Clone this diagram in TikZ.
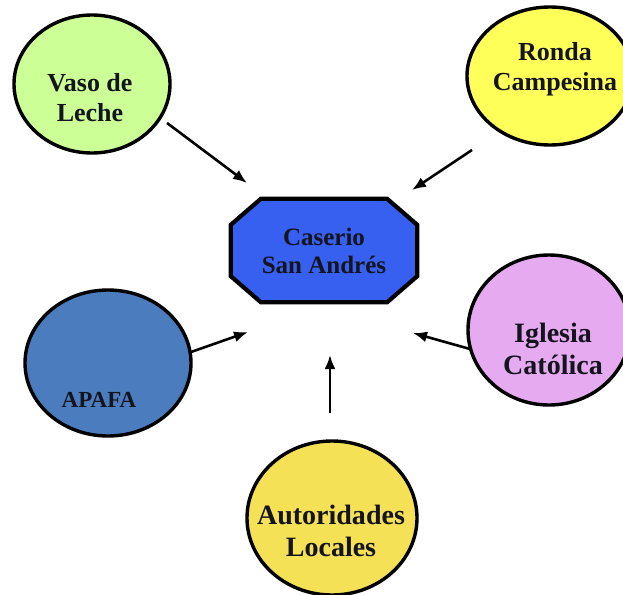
\documentclass[tikz,border=0pt]{standalone}
\usepackage{fontspec}
\setmainfont{Liberation Serif}
\usetikzlibrary{shapes.geometric,arrows.meta,calc,backgrounds}
\definecolor{cVaso}{RGB}{204,255,150}
\definecolor{cRonda}{RGB}{255,255,90}
\definecolor{cCas}{RGB}{55,95,240}
\definecolor{cApafa}{RGB}{75,125,190}
\definecolor{cIgl}{RGB}{230,170,240}
\definecolor{cAut}{RGB}{245,225,85}
\definecolor{cTxt}{RGB}{20,20,30}
\begin{document}
\begin{tikzpicture}[x=1pt,y=-1pt,
  ell/.style={ellipse, draw=black, line width=3.4pt, inner sep=0pt},
  lab/.style={font=\bfseries\fontsize{26}{30}\selectfont, text=cTxt, align=center},
  casbox/.style={rectangle, inner sep=0pt, minimum width=186pt, minimum height=103pt,
     font=\bfseries\fontsize{25}{28}\selectfont, text=cTxt, align=center},
  octo/.style={draw=black, line width=4.2pt, fill=cCas, line join=miter},
  arr/.style={line width=2.6pt, -{Latex[length=14pt,width=11pt]}}]
\clip (0,0) rectangle (623,594);

\node[casbox] (cas) at (324,250.5) {Caserio\\San Andrés};
\begin{scope}[on background layer]
\fill[white] (0,0) rectangle (623,594);
\draw[octo] ($(cas.north west)+(30,0)$) -- ($(cas.north east)+(-30,0)$)
  -- ($(cas.north east)+(0,26)$) -- ($(cas.south east)+(0,-26)$)
  -- ($(cas.south east)+(-30,0)$) -- ($(cas.south west)+(30,0)$)
  -- ($(cas.south west)+(0,-26)$) -- ($(cas.north west)+(0,26)$) -- cycle;
\end{scope}

\node[ell, fill=cVaso, minimum width=156pt, minimum height=138pt,
  label={[lab, xshift=-2pt, yshift=-13.5pt]center:{Vaso de\\Leche}}] (vaso) at (92,84) {};
\node[ell, fill=cRonda, minimum width=166pt, minimum height=138pt,
  label={[lab, xshift=5pt, yshift=7pt]center:{Ronda\\Campesina}}] (ronda) at (550,76) {};
\node[ell, fill=cApafa, minimum width=166pt, minimum height=146pt,
  label={[lab, font=\bfseries\fontsize{23}{26}\selectfont, xshift=-9pt, yshift=-37pt]center:{APAFA}}] (apafa) at (108,363) {};
\node[ell, fill=cIgl, minimum width=162pt, minimum height=150pt,
  label={[lab, font=\bfseries\fontsize{28}{32}\selectfont, xshift=4pt, yshift=-19pt]center:{Iglesia\\Católica}}] (igl) at (549,330) {};
\node[ell, fill=cAut, minimum width=170pt, minimum height=154pt,
  label={[lab, font=\bfseries\fontsize{28}{32}\selectfont, xshift=-1pt, yshift=-13pt]center:{Autoridades\\Locales}}] (aut) at (332,518) {};

\draw[arr] ($(vaso)+(75,39)$) -- ($(cas)+(-77,-67.5)$);
\draw[arr] ($(ronda)+(-78,74)$) -- ($(cas)+(88,-60.5)$);
\draw[arr] ($(apafa)+(83,-11)$) -- ($(cas)+(-76,81.5)$);
\draw[arr] ($(igl)+(-79,19)$) -- ($(cas)+(89,82.5)$);
\draw[arr] ($(aut)+(-2,-105)$) -- ($(cas)+(6,104.5)$);
\end{tikzpicture}
\end{document}
